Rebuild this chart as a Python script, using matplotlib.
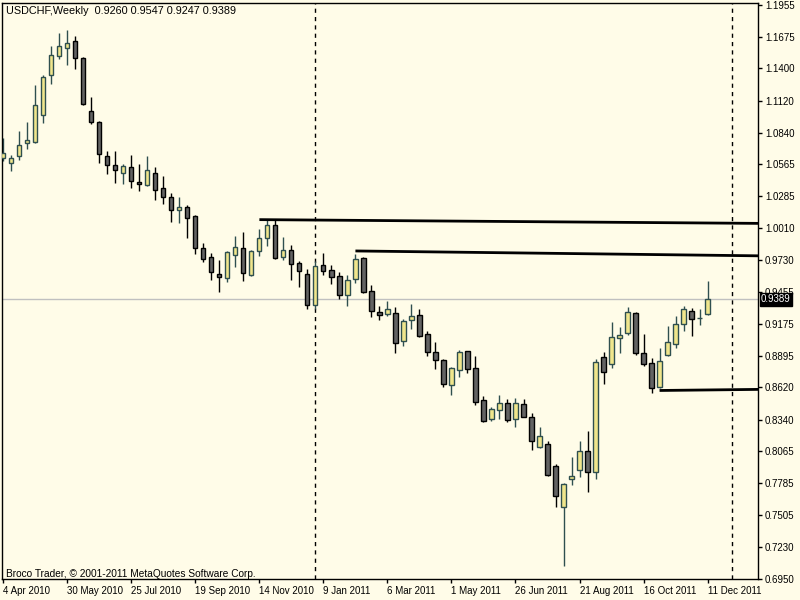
#################################################################################
# USDCHF weekly candlestick chart, MetaTrader look
#################################################################################
import numpy as np
import pandas as pd
import matplotlib
matplotlib.use("Agg")
from matplotlib import pyplot as plt

plt.rcParams["font.family"] = ["Liberation Sans", "DejaVu Sans"]

symbol = "USDCHF,Weekly"
footer = "Broco Trader, \u00a9 2001-2011 MetaQuotes Software Corp."
first_week = "2010-04-04"

opens = [1.0616, 1.0573, 1.0634, 1.0747, 1.0756, 1.0991, 1.1339, 1.1504, 1.1574, 1.1635,
         1.1489, 1.1025, 1.0932, 1.0634, 1.0555, 1.0486, 1.0538, 1.0407, 1.0381, 1.0486,
         1.0355, 1.0277, 1.0164, 1.0190, 1.0111, 0.9833, 0.9755, 0.9607, 0.9572, 0.9772,
         0.9833, 0.9598, 0.9807, 0.9920, 1.0033, 0.9755, 0.9815, 0.9702, 0.9607, 0.9337,
         0.9685, 0.9641, 0.9589, 0.9424, 0.9563, 0.9746, 0.9459, 0.9276, 0.9258, 0.9267,
         0.9023, 0.9206, 0.9250, 0.9084, 0.8928, 0.8858, 0.8640, 0.8771, 0.8937, 0.8788,
         0.8510, 0.8345, 0.8423, 0.8484, 0.8345, 0.8475, 0.8362, 0.8101, 0.8127, 0.7935,
         0.7579, 0.7822, 0.7901, 0.8066, 0.7883, 0.8884, 0.8823, 0.9050, 0.9093, 0.9267,
         0.8919, 0.8832, 0.8623, 0.8902, 0.8997, 0.9171, 0.9285, 0.9227, 0.9260]
highs = [1.0793, 1.0645, 1.0854, 1.0932, 1.1254, 1.1341, 1.1594, 1.1707, 1.1736, 1.1681,
         1.1498, 1.1150, 1.0941, 1.0680, 1.0680, 1.0567, 1.0645, 1.0567, 1.0636, 1.0538,
         1.0460, 1.0314, 1.0277, 1.0207, 1.0120, 0.9876, 0.9789, 0.9731, 0.9807, 0.9937,
         0.9975, 0.9815, 1.0001, 1.0079, 1.0079, 0.9929, 0.9859, 0.9720, 0.9650, 0.9720,
         0.9789, 0.9685, 0.9624, 0.9598, 0.9781, 0.9755, 0.9514, 0.9328, 0.9372, 0.9319,
         0.9215, 0.9346, 0.9302, 0.9111, 0.9015, 0.8867, 0.8797, 0.8950, 0.8940, 0.8893,
         0.8545, 0.8449, 0.8556, 0.8519, 0.8527, 0.8519, 0.8397, 0.8275, 0.8153, 0.7953,
         0.7787, 0.8014, 0.8153, 0.8240, 0.8869, 0.8928, 0.9189, 0.9145, 0.9319, 0.9276,
         0.9084, 0.8875, 0.8962, 0.9154, 0.9241, 0.9328, 0.9311, 0.9302, 0.9547]
lows = [1.0593, 1.0508, 1.0604, 1.0700, 1.0750, 1.0926, 1.1263, 1.1483, 1.1431, 1.1396,
        1.1080, 1.0917, 1.0578, 1.0482, 1.0404, 1.0393, 1.0360, 1.0334, 1.0378, 1.0256,
        1.0221, 1.0064, 1.0056, 0.9925, 0.9781, 0.9711, 0.9554, 0.9455, 0.9542, 0.9668,
        0.9546, 0.9589, 0.9763, 0.9850, 0.9740, 0.9728, 0.9560, 0.9499, 0.9302, 0.9302,
        0.9598, 0.9520, 0.9389, 0.9328, 0.9528, 0.9441, 0.9232, 0.9206, 0.9241, 0.8919,
        0.8980, 0.9128, 0.9058, 0.8893, 0.8780, 0.8623, 0.8553, 0.8710, 0.8745, 0.8466,
        0.8318, 0.8327, 0.8345, 0.8318, 0.8275, 0.8360, 0.8075, 0.8092, 0.7848, 0.7579,
        0.7065, 0.7770, 0.7840, 0.7709, 0.7819, 0.8646, 0.8788, 0.8919, 0.9076, 0.8902,
        0.8806, 0.8571, 0.8614, 0.8893, 0.8962, 0.9111, 0.9067, 0.9163, 0.9247]
closes = [1.0660, 1.0616, 1.0729, 1.0773, 1.1080, 1.1324, 1.1513, 1.1591, 1.1620, 1.1487,
          1.1086, 1.0930, 1.0651, 1.0555, 1.0512, 1.0547, 1.0416, 1.0390, 1.0512, 1.0338,
          1.0277, 1.0164, 1.0190, 1.0094, 0.9833, 0.9737, 0.9624, 0.9580, 0.9798, 0.9842,
          0.9615, 0.9807, 0.9920, 1.0033, 0.9746, 0.9815, 0.9694, 0.9633, 0.9337, 0.9676,
          0.9633, 0.9580, 0.9424, 0.9554, 0.9737, 0.9450, 0.9285, 0.9250, 0.9302, 0.9006,
          0.9197, 0.9241, 0.9067, 0.8928, 0.8858, 0.8649, 0.8788, 0.8928, 0.8780, 0.8492,
          0.8327, 0.8432, 0.8484, 0.8336, 0.8484, 0.8362, 0.8153, 0.8197, 0.7857, 0.7674,
          0.7779, 0.7848, 0.8066, 0.7883, 0.8841, 0.8754, 0.9058, 0.9076, 0.9276, 0.8919,
          0.8823, 0.8614, 0.8849, 0.9015, 0.9171, 0.9302, 0.9215, 0.9229, 0.9389]

price_ticks = [0.6950, 0.7230, 0.7505, 0.7785, 0.8065, 0.8340, 0.8620, 0.8895, 0.9175,
               0.9455, 0.9730, 1.0010, 1.0285, 1.0565, 1.0840, 1.1120, 1.1400, 1.1675, 1.1955]
date_labels = ["4 Apr 2010", "30 May 2010", "25 Jul 2010", "19 Sep 2010", "14 Nov 2010",
               "9 Jan 2011", "6 Mar 2011", "1 May 2011", "26 Jun 2011", "21 Aug 2011",
               "16 Oct 2011", "11 Dec 2011"]

# year separators (dashed)
separator_dates = ["2011-01-02", "2012-01-01"]

# hand drawn trend lines
trend_from = ["2010-11-14", "2011-02-06", "2011-10-30"]
trend_to = ["2012-01-29", "2012-01-29", "2012-01-29"]
trend_from_level = [1.0082, 0.9809, 0.8593]
trend_to_level = [1.0049, 0.9766, 0.8603]

bg = "#FFFCE8"
bull_fill = "#F0E68C"
bull_edge = "#2F4F4F"
bear_fill = "#636363"
bear_edge = "#000000"


def week_pos(day):
    '''weeks since the first bar'''
    return (pd.Timestamp(day) - pd.Timestamp(first_week)).days / 7


### Module 1: candles
def draw_candles(ax):
    o = np.array(opens)
    h = np.array(highs)
    l = np.array(lows)
    c = np.array(closes)
    x = np.arange(len(o))
    up = c >= o
    ax.vlines(x[up], l[up], h[up], color=bull_edge, lw=1, zorder=2)
    ax.vlines(x[~up], l[~up], h[~up], color=bear_edge, lw=1, zorder=2)
    ax.bar(x[up], (c - o)[up], bottom=o[up], width=0.52, color=bull_fill,
           edgecolor=bull_edge, linewidth=1, zorder=3)
    ax.bar(x[~up], (c - o)[~up], bottom=o[~up], width=0.52, color=bear_fill,
           edgecolor=bear_edge, linewidth=1, zorder=3)


### Module 2: objects on the chart
def draw_objects(ax):
    ax.axhline(closes[-1], color="#C0C0C0", lw=1, zorder=1)
    for d in separator_dates:
        ax.axvline(week_pos(d), color="black", lw=1, ls=(0, (3, 3)), zorder=1)
    for i in range(len(trend_from)):
        ax.plot([week_pos(trend_from[i]), week_pos(trend_to[i])],
                [trend_from_level[i], trend_to_level[i]],
                color="black", lw=2, solid_capstyle="butt", zorder=4)


### Module 3: axes and texts
def draw_axes(fig, ax):
    ax.set_xlim(-0.16, 94.3)
    ax.set_ylim(0.6950, 1.1970)
    ax.yaxis.tick_right()
    ax.set_yticks(price_ticks)
    ax.set_yticklabels(["%.4f" % v for v in price_ticks])
    ax.tick_params(axis="y", direction="out", length=3, width=1, pad=2, labelsize=7)
    pos = [week_pos(pd.to_datetime(s, format="%d %b %Y")) for s in date_labels]
    ax.set_xticks(pos)
    ax.set_xticklabels(date_labels)
    for lbl in ax.get_xticklabels():
        lbl.set_horizontalalignment("left")
    ax.tick_params(axis="x", direction="out", length=3, width=1, pad=2, labelsize=7)
    for s in ax.spines.values():
        s.set_color("black")
        s.set_linewidth(1)

    ax.annotate("%.4f" % closes[-1], xy=(1, closes[-1]),
                xycoords=("axes fraction", "data"), xytext=(3, 0),
                textcoords="offset pixels", color="white", fontsize=7,
                va="center", ha="left", annotation_clip=False, zorder=10,
                bbox=dict(boxstyle="square,pad=0.15", fc="black", ec="black"))

    title = "%s  %.4f %.4f %.4f %.4f" % (symbol, opens[-1], highs[-1], lows[-1], closes[-1])
    fig.text(6 / 800, 1 - 11 / 600, title, fontsize=7.8, va="center", ha="left")
    fig.text(6 / 800, 1 - 574 / 600, footer, fontsize=7.3, va="center", ha="left")


def main():
    fig = plt.figure(figsize=(8, 6), dpi=100, facecolor=bg)
    ax = fig.add_axes([2 / 800, 21 / 600, 756 / 800, 576 / 600])
    ax.set_facecolor(bg)
    draw_candles(ax)
    draw_objects(ax)
    draw_axes(fig, ax)
    fig.savefig("out.png", dpi=100, facecolor=bg)

main()
